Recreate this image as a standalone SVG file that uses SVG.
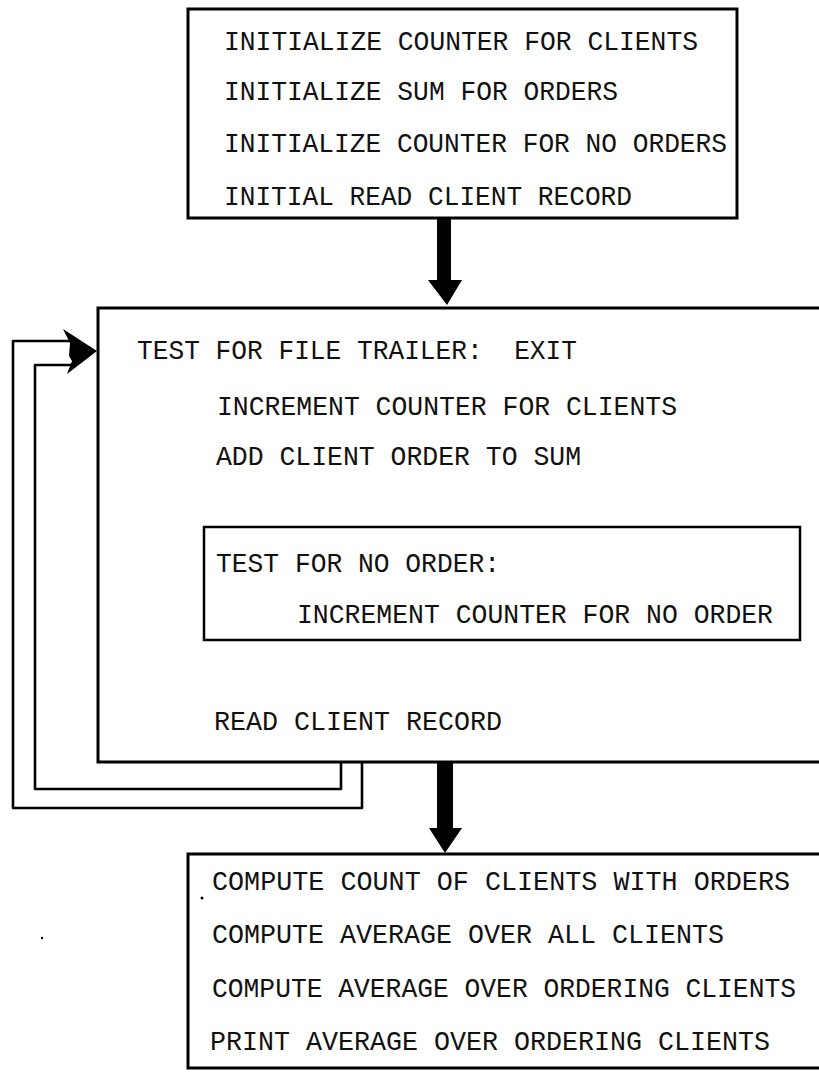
<svg xmlns="http://www.w3.org/2000/svg" width="819" height="1072" viewBox="0 0 819 1072">
<style>
.box{fill:none;stroke:#000;stroke-width:3;stroke-linejoin:miter}
.loop{fill:none;stroke:#000;stroke-width:2.6;stroke-linejoin:round}
.t{font-family:"Liberation Mono","DejaVu Sans Mono",monospace;font-size:28px;fill:#111}
.head{fill:#000}
</style>
<rect width="819" height="1072" fill="#fff"/>
<g id="node-init">
<rect class="box" x="188" y="9" width="549" height="209"/>
<text class="t" x="224" y="50" textLength="474" lengthAdjust="spacingAndGlyphs">INITIALIZE COUNTER FOR CLIENTS</text>
<text class="t" x="224" y="100" textLength="394" lengthAdjust="spacingAndGlyphs">INITIALIZE SUM FOR ORDERS</text>
<text class="t" x="224" y="152" textLength="503" lengthAdjust="spacingAndGlyphs">INITIALIZE COUNTER FOR NO ORDERS</text>
<text class="t" x="224" y="205" textLength="408" lengthAdjust="spacingAndGlyphs">INITIAL READ CLIENT RECORD</text>
</g>
<g id="node-loop">
<path class="box" d="M822 308 H98 V762 H822"/>
<text class="t" x="137" y="359" textLength="440" lengthAdjust="spacingAndGlyphs" xml:space="preserve">TEST FOR FILE TRAILER:  EXIT</text>
<text class="t" x="217" y="415" textLength="460" lengthAdjust="spacingAndGlyphs">INCREMENT COUNTER FOR CLIENTS</text>
<text class="t" x="216" y="465" textLength="365" lengthAdjust="spacingAndGlyphs">ADD CLIENT ORDER TO SUM</text>
<text class="t" x="214" y="730" textLength="288" lengthAdjust="spacingAndGlyphs">READ CLIENT RECORD</text>
</g>
<g id="node-noorder">
<rect class="box" x="204" y="527" width="596" height="113" style="stroke-width:2.5"/>
<text class="t" x="216" y="572" textLength="284" lengthAdjust="spacingAndGlyphs">TEST FOR NO ORDER:</text>
<text class="t" x="297" y="623" textLength="476" lengthAdjust="spacingAndGlyphs">INCREMENT COUNTER FOR NO ORDER</text>
</g>
<g id="node-compute">
<path class="box" d="M822 854 H188 V1068 H822"/>
<text class="t" x="212" y="890" textLength="578" lengthAdjust="spacingAndGlyphs">COMPUTE COUNT OF CLIENTS WITH ORDERS</text>
<text class="t" x="212" y="943" textLength="512" lengthAdjust="spacingAndGlyphs">COMPUTE AVERAGE OVER ALL CLIENTS</text>
<text class="t" x="212" y="997" textLength="584" lengthAdjust="spacingAndGlyphs">COMPUTE AVERAGE OVER ORDERING CLIENTS</text>
<text class="t" x="210" y="1050" textLength="560" lengthAdjust="spacingAndGlyphs">PRINT AVERAGE OVER ORDERING CLIENTS</text>
<circle cx="202" cy="898" r="1.5" fill="#000"/>
</g>
<g id="connectors">
<rect class="head" x="437" y="218" width="14" height="64"/>
<polygon class="head" points="428,280 462,280 447,305"/>
<rect class="head" x="437" y="762" width="16" height="68"/>
<polygon class="head" points="429,828 462,828 445,853"/>
<path class="loop" d="M341 762 V789 H35 V365 H72"/>
<path class="loop" d="M362 762 V808 H13 V341 H70"/>
<polygon class="head" points="63,329 97,351 67,374 72,361 69,356 70,343"/>
<circle cx="42" cy="938" r="1.2" fill="#000"/>
</g>
</svg>
